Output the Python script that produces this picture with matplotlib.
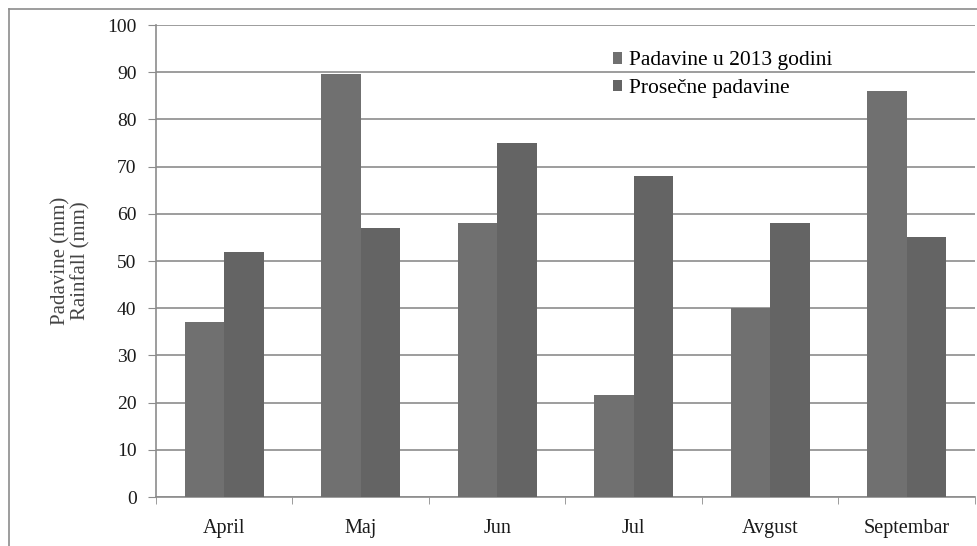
import numpy as np
import matplotlib.pyplot as plt
from matplotlib.lines import Line2D

months = ["April", "Maj", "Jun", "Jul", "Avgust", "Septembar"]
rain_2013 = [37, 89.7, 58, 21.7, 40, 86]
rain_avg = [52, 57, 75, 68, 58, 55]
labels = ["Padavine u 2013 godini", "Prosečne padavine"]

plt.rcParams["font.family"] = ["Liberation Serif", "DejaVu Serif"]

fig = plt.figure(figsize=(9.78, 5.46), dpi=100)
ax = fig.add_axes([156 / 978, 1 - 497 / 546, (975 - 156) / 978, (497 - 25) / 546])

x = np.arange(len(months))
w = 0.29
ax.bar(x - w / 2, rain_2013, w, color="#707070", label=labels[0], zorder=3)
ax.bar(x + w / 2, rain_avg, w, color="#646464", label=labels[1], zorder=3)

ax.set_xlim(-0.5, len(months) - 0.5)
ax.set_ylim(0, 100)
ax.set_yticks(np.arange(0, 101, 10))
ax.yaxis.grid(True, color="#8c8c8c", linewidth=1.2, zorder=0)
ax.set_xticks(x)
ax.set_xticklabels(months, fontsize=14.5, color="#1a1a1a")
ax.set_xticks(np.arange(-0.5, len(months), 1), minor=True)
ax.tick_params(axis="x", which="major", length=0, pad=16)
ax.tick_params(axis="x", which="minor", length=5, color="#8c8c8c", direction="out")
ax.tick_params(axis="y", length=6, color="#8c8c8c", labelsize=14, labelcolor="#1a1a1a", pad=8)

for s in ["top", "right"]:
    ax.spines[s].set_visible(False)
for s in ["left", "bottom"]:
    ax.spines[s].set_color("#8c8c8c")
    ax.spines[s].set_linewidth(1.2)

ax.set_ylabel("Padavine (mm)\nRainfall (mm)", fontsize=15, color="#444444", labelpad=12,
              linespacing=1.05)

ax.legend(loc="upper left", bbox_to_anchor=(0.534, 0.985), frameon=False, fontsize=15.5,
          handlelength=0.45, handleheight=0.45, handletextpad=0.3, labelspacing=0.4)

# outer chart border
fig.add_artist(Line2D([9 / 978, 9 / 978], [0, 1 - 9 / 546], transform=fig.transFigure, color="#8c8c8c", lw=1.2))
fig.add_artist(Line2D([9 / 978, 1], [1 - 9 / 546, 1 - 9 / 546], transform=fig.transFigure, color="#8c8c8c", lw=1.2))

plt.savefig("out.png")
